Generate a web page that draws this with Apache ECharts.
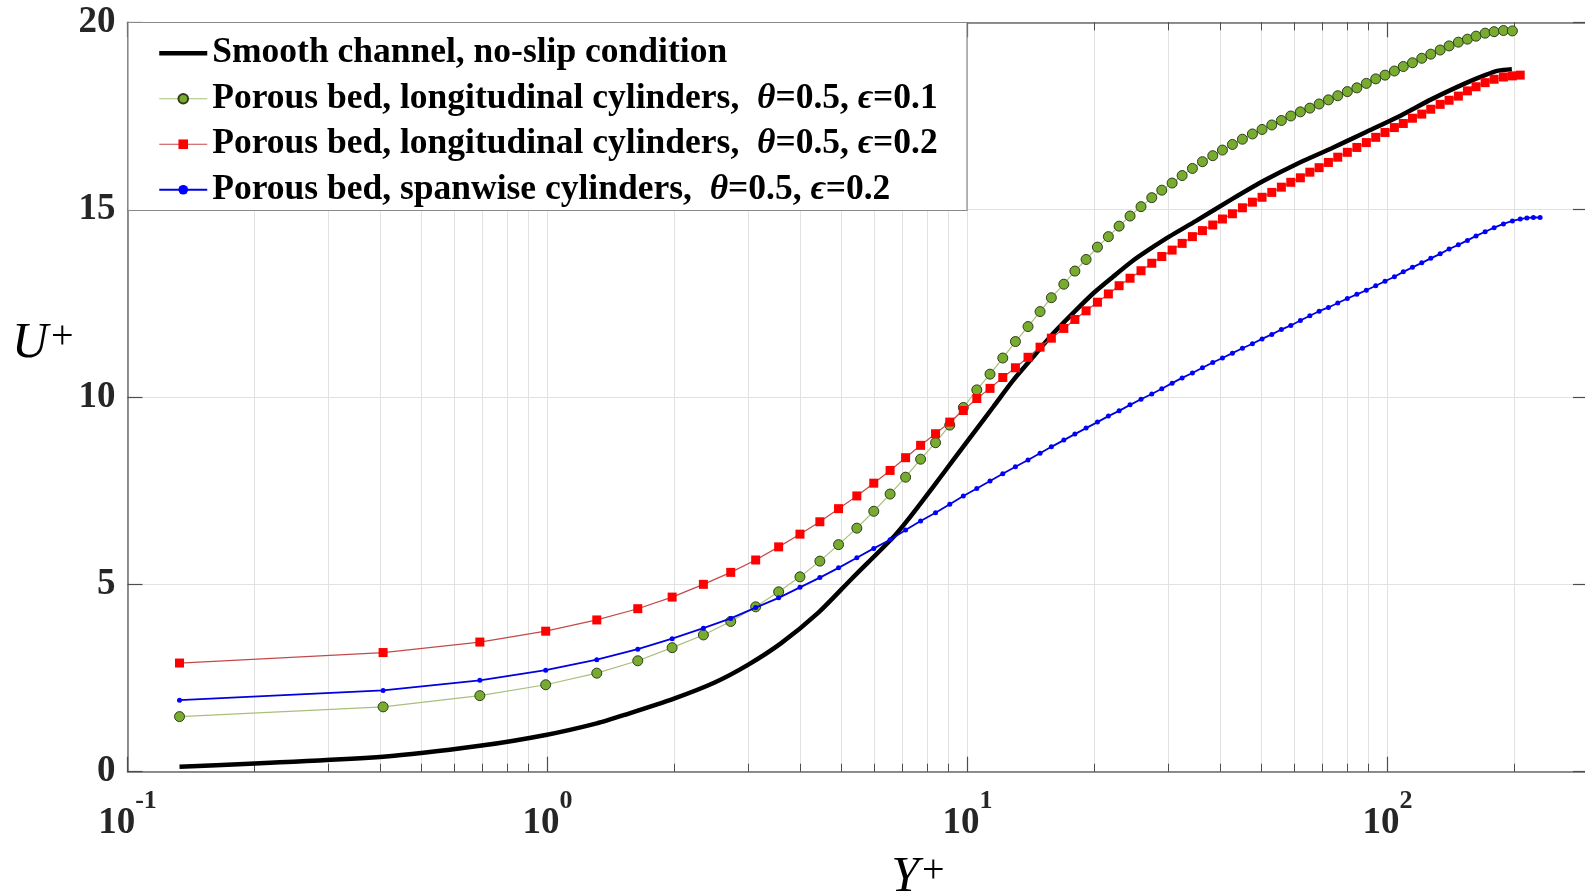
<!DOCTYPE html>
<html>
<head>
<meta charset="utf-8">
<script src="https://cdn.jsdelivr.net/npm/echarts@6/dist/echarts.min.js"></script>
<style>
  html, body { margin: 0; padding: 0; background: #ffffff; }
  #chart { width: 1585px; height: 891px; }
</style>
</head>
<body>
<div id="chart"></div>
<script>
// ---- series names (legend order = drawing order) ----
const seriesNames = [
  'Smooth channel, no-slip condition',
  'Porous bed, longitudinal cylinders,  θ=0.5, ϵ=0.1',
  'Porous bed, longitudinal cylinders,  θ=0.5, ϵ=0.2',
  'Porous bed, spanwise cylinders,  θ=0.5, ϵ=0.2'
];

// ---- mean velocity profiles, [Y+, U+] ----
const smoothChannel = [
  [0.133,0.13],[0.406,0.40],[0.69,0.69],[0.99,0.98],[1.31,1.29],[1.53,1.52],[2.0,1.95],[2.5,2.38],
  [3.0,2.85],[3.6,3.43],[4.4,4.23],[5.3,5.15],[6.67,6.27],[7.23,6.74],[8.29,7.61],[9.25,8.32],
  [10.32,9.03],[11.52,9.74],[12.85,10.45],[14.35,11.08],[16.0,11.70],[17.9,12.26],[19.93,12.77],
  [22.2,13.21],[24.7,13.63],[27.7,14.01],[30.2,14.28],[35.0,14.70],[42.6,15.28],[51.1,15.79],
  [61.3,16.24],[73.6,16.64],[88.4,17.06],[106.1,17.48],[127.4,17.95],[153.0,18.37],[170.6,18.59],
  [183.5,18.71],[197.6,18.75]
];

const longitudinalEps01 = [
  [0.133,1.47],[0.406,1.73],[0.69,2.03],[0.99,2.32],[1.31,2.63],[1.64,2.96],[1.98,3.31],[2.35,3.65],
  [2.73,4.01],[3.13,4.40],[3.55,4.80],[3.99,5.20],[4.45,5.62],[4.93,6.06],[5.45,6.50],[5.98,6.95],
  [6.54,7.41],[7.12,7.86],[7.73,8.34],[8.39,8.78],[9.07,9.25],[9.77,9.72],[10.52,10.19],[11.31,10.61],
  [12.13,11.04],[13.0,11.48],[13.93,11.88],[14.88,12.28],[15.83,12.65],[16.95,13.01],[18.01,13.36],
  [19.15,13.67],[20.38,14.00],[21.64,14.28],[22.95,14.56],[24.37,14.83],[25.88,15.08],[27.45,15.32],
  [29.0,15.52],[30.69,15.71],[32.42,15.91],[34.3,16.10],[36.24,16.28],[38.35,16.44],[40.44,16.59],
  [42.71,16.74],[45.12,16.88],[47.66,17.02],[50.25,17.14],[53.0,17.26],[55.86,17.38],[58.82,17.50],
  [62.0,17.61],[65.3,17.71],[68.7,17.82],[72.3,17.93],[76.1,18.04],[80.2,18.15],[84.5,18.25],
  [89.0,18.37],[93.7,18.49],[98.6,18.59],[103.8,18.70],[109.0,18.82],[114.6,18.92],[120.6,19.04],
  [126.7,19.15],[133.4,19.26],[140.1,19.37],[147.4,19.47],[154.9,19.55],[162.4,19.63],[170.7,19.71],
  [179.3,19.75],[188.7,19.78],[198.2,19.77]
];

const longitudinalEps02 = [
  [0.133,2.90],[0.406,3.18],[0.69,3.46],[0.99,3.75],[1.31,4.05],[1.64,4.35],[1.98,4.66],[2.35,5.00],
  [2.73,5.32],[3.13,5.65],[3.55,6.00],[3.99,6.34],[4.45,6.67],[4.93,7.02],[5.45,7.36],[5.98,7.70],
  [6.54,8.04],[7.12,8.38],[7.73,8.71],[8.39,9.02],[9.07,9.33],[9.77,9.64],[10.52,9.96],[11.31,10.23],
  [12.13,10.52],[13.0,10.78],[13.93,11.06],[14.88,11.33],[15.83,11.57],[16.95,11.83],[18.01,12.07],
  [19.15,12.30],[20.38,12.53],[21.64,12.75],[22.95,12.97],[24.37,13.17],[25.88,13.37],[27.45,13.57],
  [29.0,13.75],[30.69,13.92],[32.42,14.10],[34.3,14.28],[36.24,14.44],[38.35,14.59],[40.44,14.75],
  [42.71,14.89],[45.12,15.05],[47.66,15.20],[50.25,15.33],[53.0,15.46],[55.86,15.60],[58.82,15.73],
  [62.0,15.85],[65.3,16.00],[68.7,16.12],[72.3,16.26],[76.1,16.40],[80.2,16.53],[84.5,16.66],
  [89.0,16.79],[93.7,16.93],[98.6,17.06],[103.8,17.19],[109.0,17.30],[114.6,17.44],[120.6,17.55],
  [126.7,17.68],[133.4,17.81],[140.1,17.92],[147.4,18.03],[154.9,18.17],[162.4,18.28],[170.7,18.39],
  [179.3,18.48],[188.7,18.54],[198.2,18.57],[206.9,18.59]
];

const spanwiseEps02 = [
  [0.133,1.91],[0.406,2.17],[0.69,2.44],[0.99,2.71],[1.31,2.99],[1.64,3.27],[1.98,3.55],[2.35,3.83],
  [2.73,4.09],[3.13,4.38],[3.55,4.64],[3.99,4.92],[4.45,5.18],[4.93,5.44],[5.45,5.71],[5.98,5.96],
  [6.54,6.19],[7.12,6.45],[7.73,6.69],[8.39,6.91],[9.07,7.14],[9.77,7.36],[10.52,7.56],[11.31,7.76],
  [12.13,7.95],[13.0,8.14],[13.93,8.32],[14.88,8.50],[15.83,8.67],[16.95,8.85],[18.01,9.01],
  [19.15,9.17],[20.38,9.33],[21.64,9.49],[22.95,9.63],[24.37,9.79],[25.88,9.94],[27.45,10.08],
  [29.0,10.22],[30.69,10.37],[32.42,10.51],[34.3,10.64],[36.24,10.78],[38.35,10.92],[40.44,11.04],
  [42.71,11.17],[45.12,11.30],[47.66,11.42],[50.25,11.55],[53.0,11.67],[55.86,11.80],[58.82,11.91],
  [62.0,12.04],[65.3,12.17],[68.7,12.29],[72.3,12.39],[76.1,12.51],[80.2,12.63],[84.5,12.74],
  [89.0,12.85],[93.7,12.97],[98.6,13.09],[103.8,13.21],[109.0,13.34],[114.6,13.46],[120.6,13.58],
  [126.7,13.70],[133.4,13.82],[140.1,13.95],[147.4,14.06],[154.9,14.18],[162.4,14.30],[170.7,14.41],
  [179.3,14.52],[188.7,14.62],[198.2,14.70],[206.9,14.75],[214.6,14.78],[222.4,14.79],[230.7,14.79]
];

// ---- axes ----
const xRange = [0.1, 300];
const xDecadeTicks = [0.1, 1, 10, 100];
const xAllTicks = [
  0.1, 0.2, 0.3, 0.4, 0.5, 0.6, 0.7, 0.8, 0.9,
  1, 2, 3, 4, 5, 6, 7, 8, 9,
  10, 20, 30, 40, 50, 60, 70, 80, 90,
  100, 200, 300
];
const yRange = [0, 20];
const yStep = 5;

const SERIF = "'Liberation Serif','Times New Roman',serif";
const AXIS_GRAY = '#6b6b6b';
const TICK_GRAY = '#4d4d4d';
const GRID_GRAY = '#e2e2e2';
const CLEAR = 'rgba(0,0,0,0)';

const chart = echarts.init(document.getElementById('chart'), null, { renderer: 'canvas' });

function logAxis(extra) {
  return Object.assign({
    type: 'log',
    logBase: 10,
    min: xRange[0],
    max: xRange[1],
    gridIndex: 0,
    axisLine: { show: false },
    axisTick: { show: false },
    axisLabel: { show: false },
    splitLine: { show: false },
    minorTick: { show: false },
    minorSplitLine: { show: false }
  }, extra);
}

function valueAxis(extra) {
  return Object.assign({
    type: 'value',
    min: yRange[0],
    max: yRange[1],
    interval: yStep,
    gridIndex: 0,
    axisLine: { show: true, lineStyle: { color: AXIS_GRAY, width: 1.5 } },
    axisTick: { show: true, inside: true, length: 15, lineStyle: { color: TICK_GRAY, width: 1.2 } },
    axisLabel: { show: false },
    splitLine: { show: false }
  }, extra);
}

// legend entries: the smooth-channel entry is a bare thick line
const legendEntries = [
  { name: seriesNames[0], lineStyle: { width: 4.5 },
    itemStyle: { color: CLEAR, borderColor: CLEAR, borderWidth: 0 } },
  { name: seriesNames[1], lineStyle: { width: 1.2 } },
  { name: seriesNames[2], lineStyle: { width: 1.2 } },
  { name: seriesNames[3], lineStyle: { width: 1.8 } }
];

const axisTitleRich = {
  u: { fontFamily: SERIF, fontStyle: 'italic', fontSize: 50, lineHeight: 54, fill: '#000000' },
  p: { fontFamily: SERIF, fontSize: 40, lineHeight: 30, verticalAlign: 'top', fill: '#000000', padding: [0, 0, 0, 3] }
};

const option = {
  animation: false,
  backgroundColor: '#ffffff',
  grid: {
    left: 127.5,
    top: 22.3,
    width: 1460.5,
    height: 749.4,
    containLabel: false,
    outerBoundsMode: 'none'
  },
  xAxis: [
    // bottom: decade ticks + labels
    logAxis({
      position: 'bottom',
      axisLine: { show: true, lineStyle: { color: AXIS_GRAY, width: 1.5 } },
      axisTick: { show: true, inside: true, length: 15, customValues: xDecadeTicks,
                  lineStyle: { color: TICK_GRAY, width: 1.2 } },
      axisLabel: {
        show: true,
        customValues: xDecadeTicks,
        margin: 17,
        formatter: function (v) {
          const e = Math.round(Math.log10(v));
          return '{b|10}{s|' + e + '}';
        },
        rich: {
          b: { fontFamily: SERIF, fontWeight: 'bold', fontSize: 37, lineHeight: 70, color: '#262626' },
          s: { fontFamily: SERIF, fontWeight: 'bold', fontSize: 26, lineHeight: 24, verticalAlign: 'top', color: '#262626' }
        }
      }
    }),
    // bottom: all ticks + vertical grid lines
    logAxis({
      position: 'bottom',
      axisTick: { show: true, inside: true, length: 8, customValues: xAllTicks,
                  lineStyle: { color: TICK_GRAY, width: 1 } },
      splitLine: { show: true, lineStyle: { color: GRID_GRAY, width: 1 } }
    }),
    // top frame: decade ticks
    logAxis({
      position: 'top',
      axisLine: { show: true, lineStyle: { color: AXIS_GRAY, width: 1.5 } },
      axisTick: { show: true, inside: true, length: 15, customValues: xDecadeTicks,
                  lineStyle: { color: TICK_GRAY, width: 1.2 } }
    }),
    // top frame: all ticks
    logAxis({
      position: 'top',
      axisTick: { show: true, inside: true, length: 8, customValues: xAllTicks,
                  lineStyle: { color: TICK_GRAY, width: 1 } }
    })
  ],
  yAxis: [
    valueAxis({
      position: 'left',
      axisLabel: {
        show: true, margin: 12,
        fontFamily: SERIF, fontWeight: 'bold', fontSize: 37, color: '#262626'
      },
      splitLine: { show: true, lineStyle: { color: GRID_GRAY, width: 1 } }
    }),
    valueAxis({ position: 'right' })
  ],
  legend: {
    data: legendEntries,
    orient: 'vertical',
    left: 157,
    top: 34,
    padding: 0,
    itemWidth: 48,
    itemHeight: 12,
    itemGap: 7,
    selectedMode: false,
    formatter: function (name) {
      return name.replace(/([θϵ])/g, '{it|$1}');
    },
    textStyle: {
      fontFamily: SERIF, fontWeight: 'bold', fontSize: 35.5, color: '#000000', lineHeight: 38.5,
      rich: {
        it: { fontFamily: SERIF, fontStyle: 'italic', fontWeight: 'bold', fontSize: 35.5, color: '#000000', lineHeight: 38.5 }
      }
    }
  },
  graphic: [
    {
      type: 'rect', z: 3, silent: true,
      shape: { x: 128, y: 22.5, width: 839, height: 188 },
      style: { fill: '#ffffff', stroke: '#8a8a8a', lineWidth: 1.2 }
    },
    {
      type: 'text', z: 5, x: 12, y: 317, silent: true,
      style: { text: '{u|U}{p|+}', verticalAlign: 'top', rich: axisTitleRich }
    },
    {
      type: 'text', z: 5, x: 918, y: 851, silent: true,
      style: { text: '{u|Y}{p|+}', align: 'center', verticalAlign: 'top', rich: axisTitleRich }
    }
  ],
  series: [
    {
      name: seriesNames[0],
      type: 'line',
      xAxisIndex: 0, yAxisIndex: 0,
      data: smoothChannel,
      symbol: 'none',
      smooth: 0.25,
      lineStyle: { color: '#000000', width: 4.5 },
      itemStyle: { color: '#000000' },
      z: 2
    },
    {
      name: seriesNames[1],
      type: 'line',
      xAxisIndex: 0, yAxisIndex: 0,
      data: longitudinalEps01,
      symbol: 'circle',
      symbolSize: 10,
      lineStyle: { color: '#a9bf7c', width: 1.2 },
      itemStyle: { color: '#77ac30', borderColor: '#2f3d1a', borderWidth: 1 },
      z: 3
    },
    {
      name: seriesNames[2],
      type: 'line',
      xAxisIndex: 0, yAxisIndex: 0,
      data: longitudinalEps02,
      symbol: 'rect',
      symbolSize: 9,
      lineStyle: { color: '#c24a4a', width: 1.2 },
      itemStyle: { color: '#ff0000', borderWidth: 0 },
      z: 4
    },
    {
      name: seriesNames[3],
      type: 'line',
      xAxisIndex: 0, yAxisIndex: 0,
      data: spanwiseEps02,
      symbol: 'circle',
      symbolSize: 5,
      lineStyle: { color: '#0000e0', width: 1.8 },
      itemStyle: { color: '#0000ff', borderWidth: 0 },
      z: 5
    }
  ]
};

chart.setOption(option);
</script>
</body>
</html>
